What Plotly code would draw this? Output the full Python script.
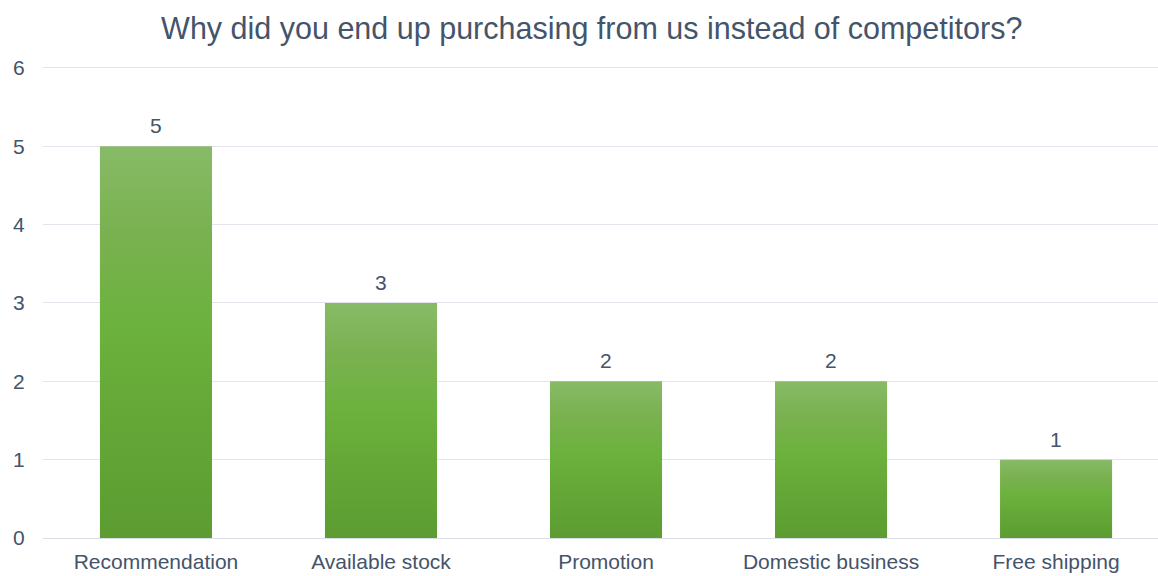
import plotly.graph_objects as go

# Survey responses
categories = ["Recommendation", "Available stock", "Promotion", "Domestic business", "Free shipping"]
counts = [5, 3, 2, 2, 1]

BAR_HALF = 0.249
FONT = "Liberation Sans, Arial, sans-serif"
TEXT_COLOR = "#44546a"
green_scale = [
    [0.0, "#5c9c31"],
    [0.35, "#66a938"],
    [0.55, "#6cb23e"],
    [0.78, "#7ab150"],
    [1.0, "#87bb67"],
]

fig = go.Figure()

# Each bar drawn as a filled rectangle so it can carry a vertical gradient
for i, v in enumerate(counts):
    fig.add_trace(go.Scatter(
        x=[i - BAR_HALF, i - BAR_HALF, i + BAR_HALF, i + BAR_HALF, i - BAR_HALF],
        y=[0, v, v, 0, 0],
        mode="lines",
        fill="toself",
        line=dict(width=0),
        fillgradient=dict(type="vertical", colorscale=green_scale),
        hoverinfo="skip",
        showlegend=False,
    ))

# Value labels above the bars
for i, v in enumerate(counts):
    fig.add_annotation(
        x=i, y=v, xref="x", yref="y",
        text=str(v), showarrow=False,
        yanchor="bottom", yshift=7,
        font=dict(family=FONT, size=21, color=TEXT_COLOR),
    )

fig.update_layout(
    width=1158,
    height=576,
    margin=dict(l=43, r=0, t=64, b=38),
    paper_bgcolor="white",
    plot_bgcolor="white",
    title=dict(
        text="Why did you end up purchasing from us instead of competitors?",
        x=0.511, xref="container", xanchor="center",
        y=1 - 28 / 576, yref="container", yanchor="middle",
        font=dict(family=FONT, size=30.5, color=TEXT_COLOR),
    ),
    font=dict(family=FONT, color=TEXT_COLOR),
    xaxis=dict(
        range=[-0.502, 4.453],
        tickmode="array",
        tickvals=list(range(len(categories))),
        ticktext=categories,
        showgrid=False,
        zeroline=False,
        showline=False,
        ticks="outside",
        ticklen=5,
        tickcolor="rgba(0,0,0,0)",
        tickfont=dict(size=21, color=TEXT_COLOR),
        fixedrange=True,
    ),
    yaxis=dict(
        range=[0, 6.05],
        tickmode="array",
        tickvals=[0, 1, 2, 3, 4, 5, 6],
        showgrid=True,
        gridcolor="#e1e5ec",
        gridwidth=1,
        zeroline=True,
        zerolinecolor="#d9dee7",
        zerolinewidth=1,
        showline=False,
        ticks="outside",
        ticklen=13,
        tickcolor="rgba(0,0,0,0)",
        tickfont=dict(size=21, color=TEXT_COLOR),
        fixedrange=True,
    ),
)

fig.write_html("out.html")
